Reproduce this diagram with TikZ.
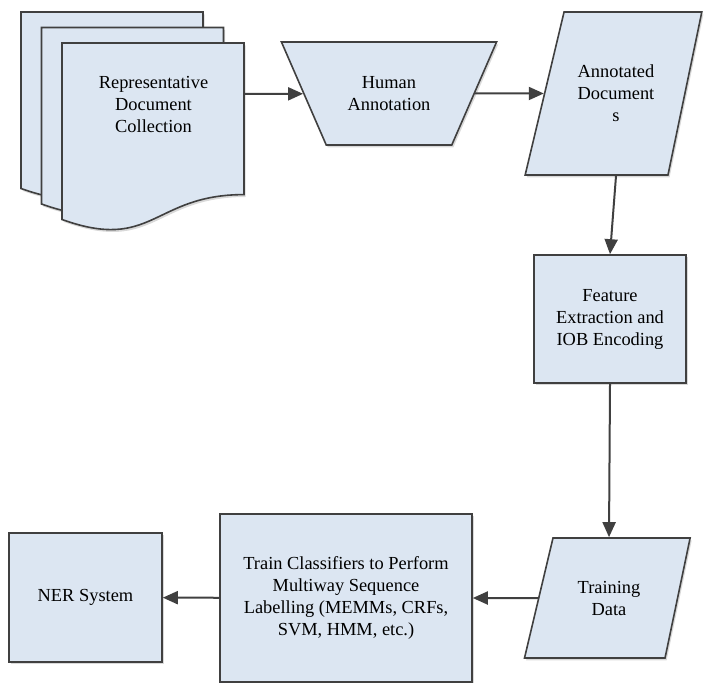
\documentclass[tikz,border=0pt]{standalone}
\usepackage{fontspec}
\setmainfont{Liberation Serif}
\usetikzlibrary{arrows.meta,shapes.geometric,shadows}
\definecolor{boxfill}{HTML}{DCE6F2}
\definecolor{boxline}{HTML}{404040}

\begin{document}
\begin{tikzpicture}[x=0.5pt,y=-0.5pt,
    >={Triangle[length=7.5pt,width=6.5pt]},
    softshadow/.style={drop shadow={shadow xshift=0.8pt,shadow yshift=-1.2pt,opacity=0.3}},
    block/.style={draw=boxline,fill=boxfill,line width=0.8pt,softshadow,align=center,
      font=\fontsize{9.2}{11}\selectfont,inner sep=2pt},
    slanted/.style={trapezium,trapezium stretches=true},
    flow/.style={->,draw=boxline,line width=1pt}]
    \useasboundingbox (0,0) rectangle (705,683);
    % stacked documents
    \foreach \dx/\dy in {21/12,41.5/27.5,62/43}
      \filldraw[block] (\dx,\dy) -- (\dx+182,\dy) -- (\dx+182,\dy+151.6)
        .. controls (\dx+91,\dy+151.6) and (\dx+91,\dy+209.3) .. (\dx,\dy+176.5) -- cycle;
    \node[align=center,font=\fontsize{9.2}{11}\selectfont] (docs) at (153.5,105) {Representative\\Document\\Collection};
    \coordinate (docsout) at (245,94);
    \node[block,slanted,trapezium left angle=127.5,trapezium right angle=127.5,
      minimum width=108pt,minimum height=51.5pt] (human) at (389,93.5) {Human\\Annotation};
    \node[block,slanted,trapezium left angle=64,trapezium right angle=113,
      minimum width=89pt,minimum height=81.5pt] (annot) at (616,93.5) {Annotated\\Document\\s};
    \node[block,minimum width=76pt,minimum height=64pt] (feat) at (610,319) {Feature\\Extraction and\\IOB Encoding};
    \node[block,slanted,trapezium left angle=67,trapezium right angle=110.5,
      minimum width=83pt,minimum height=60pt] (train) at (609,598) {Training\\Data};
    \node[block,minimum width=126pt,minimum height=84pt] (clf) at (346,598)
      {Train Classifiers to Perform\\Multiway Sequence\\Labelling (MEMMs, CRFs,\\SVM, HMM, etc.)};
    \node[block,minimum width=76.5pt,minimum height=64.5pt] (ner) at (85.5,597.5) {NER System};
    % connectors
    \draw[flow] (docsout) -- (human);
    \draw[flow] (human) -- (annot);
    \draw[flow] (annot.south) -- (feat.north);
    \draw[flow] (feat.south) -- (train.north);
    \draw[flow] (train) -- (clf);
    \draw[flow] (clf) -- (ner);
  \end{tikzpicture}
\end{document}
